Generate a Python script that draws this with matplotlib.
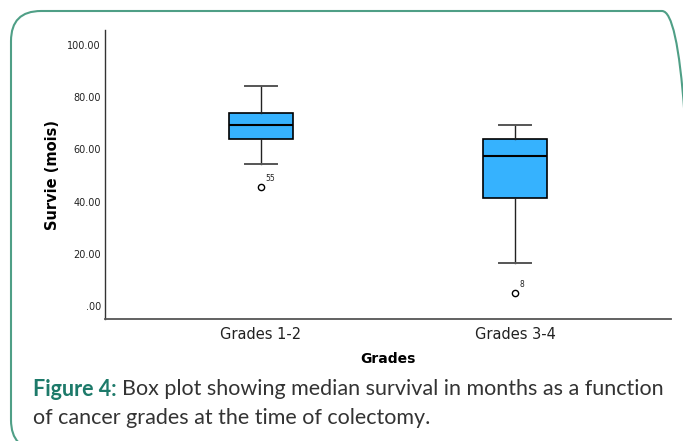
import matplotlib
matplotlib.use("Agg")
import matplotlib.pyplot as plt
from matplotlib.patches import FancyBboxPatch
from matplotlib.transforms import IdentityTransform

# ---- data ----
categories = ["Grades 1-2", "Grades 3-4"]
whislo = [54.5, 16.6]
q1 = [63.9, 41.4]
med = [69.5, 57.6]
q3 = [73.8, 63.9]
whishi = [84.4, 69.5]
outliers = [[45.5], [4.9]]
outlier_ids = ["55", "8"]
yticks = [0, 20, 40, 60, 80, 100]
ytick_labels = [".00", "20.00", "40.00", "60.00", "80.00", "100.00"]

W, H, DPI = 683, 441, 100
fig = plt.figure(figsize=(W / DPI, H / DPI), dpi=DPI)
fig.patch.set_facecolor("white")

# axes placement in pixels
left, right, top, bottom = 105, 671, 30, 319
ax = fig.add_axes([left / W, (H - bottom) / H, (right - left) / W, (bottom - top) / H])

stats = []
for i, c in enumerate(categories):
    stats.append(dict(label=c, whislo=whislo[i], q1=q1[i], med=med[i],
                      q3=q3[i], whishi=whishi[i], fliers=outliers[i]))

ax.bxp(stats, positions=range(len(categories)), widths=0.25, patch_artist=True,
       boxprops=dict(facecolor="#36b2fe", edgecolor="black", linewidth=1.2),
       medianprops=dict(color="black", linewidth=1.5),
       whiskerprops=dict(color="#222222", linewidth=1.0),
       capprops=dict(color="#555555", linewidth=1.4),
       flierprops=dict(marker="o", markersize=4.5, markerfacecolor="white",
                       markeredgecolor="black", markeredgewidth=1.0))

for i, (vals, ids) in enumerate(zip(outliers, outlier_ids)):
    for v in vals:
        ax.annotate(ids, (i, v), xytext=(3.5, 3), textcoords="offset points",
                    fontsize=5.5, ha="left", va="bottom", color="#222222")

ax.set_xlim(-0.614, 1.614)
ax.set_ylim(-5.0, 105.7)
ax.set_yticks(yticks)
ax.set_yticklabels(ytick_labels)
ax.set_xticks(range(len(categories)))
ax.set_xticklabels(categories)
ax.tick_params(axis="y", length=0, pad=3, labelsize=7, labelcolor="#222222")
ax.tick_params(axis="x", length=0, pad=6, labelsize=10.5, labelcolor="#222222")
for s in ["top", "right"]:
    ax.spines[s].set_visible(False)
ax.spines["left"].set_color("#333333")
ax.spines["bottom"].set_color("#555555")
ax.spines["left"].set_linewidth(1.0)
ax.spines["bottom"].set_linewidth(1.3)
ax.set_xlabel("Grades", fontsize=10, fontweight="bold", labelpad=7)
ax.set_ylabel("Survie (mois)", fontsize=10.5, fontweight="bold", labelpad=5)

# caption
cap_font = "Lato"
cap_size = 15.5
t1 = fig.text(33 / W, 1 - 389 / H, "Figure 4:", fontsize=cap_size, fontweight="bold",
              color="#1d7a6a", family=cap_font, va="center", ha="left")
fig.canvas.draw()
r = fig.canvas.get_renderer()
bb = t1.get_window_extent(r)
t2 = fig.text((bb.x1 + 5) / W, 1 - 389 / H,
              "Box plot showing median survival in months as a function",
              fontsize=cap_size, color="#333333", family=cap_font, va="center", ha="left")
fig.text(33 / W, 1 - 418 / H, "of cancer grades at the time of colectomy.",
         fontsize=cap_size, color="#333333", family=cap_font, va="center", ha="left")

# rounded border (pixels, display coords origin bottom-left)
border = FancyBboxPatch((11, H - 450), 692 - 11, 450 - 11,
                        boxstyle="round,pad=0,rounding_size=30",
                        transform=IdentityTransform(), fill=False,
                        edgecolor="#4f9f86", linewidth=1.5)
fig.patches.append(border)

fig.savefig("out.png", dpi=DPI)
